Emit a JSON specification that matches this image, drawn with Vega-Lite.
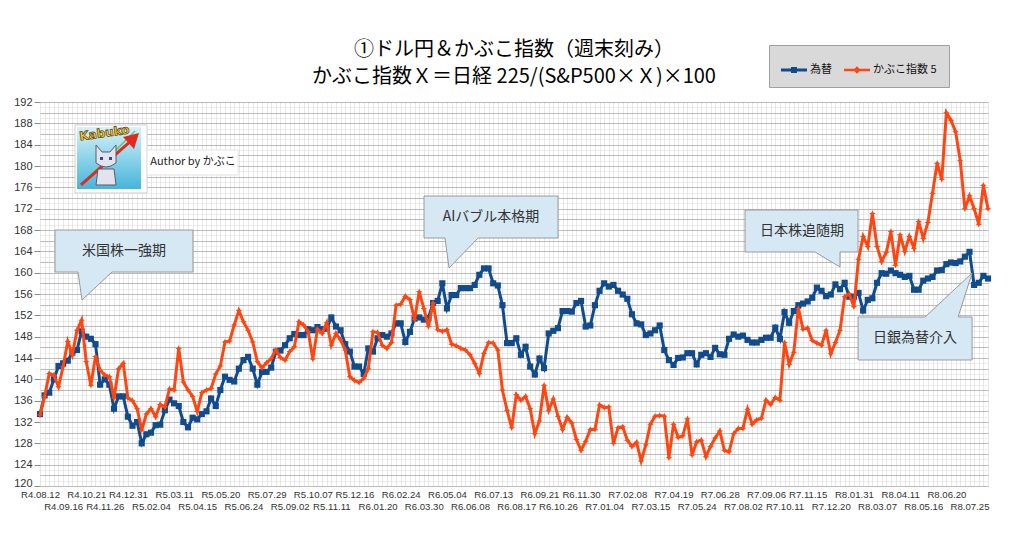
{
  "$schema": "https://vega.github.io/schema/vega-lite/v6.json",
  "width": 948,
  "height": 384,
  "autosize": "none",
  "padding": {"left": 40, "top": 102, "right": 36, "bottom": 50},
  "background": "white",
  "title": {
    "text": ["①ドル円＆かぶこ指数（週末刻み）", "かぶこ指数Ｘ＝日経 225/(S&P500×Ｘ)×100"],
    "font": "Noto Sans CJK JP",
    "fontSize": 20,
    "fontWeight": "normal",
    "color": "#000000",
    "lineHeight": 27,
    "anchor": "middle",
    "frame": "group",
    "offset": -42
  },
  "params": [
    {"name": "tk", "value": [0,5,10,14,19,24,29,34,39,44,49,54,59,63,68,73,78,83,88,93,98,103,108,112,117,122,127,132,137,142,147,152,157,161,166,171,176,181,186,191,196,201]},
    {"name": "lb", "value": ["R4.08.12","R4.09.16","R4.10.21","R4.11.26","R4.12.31","R5.02.04","R5.03.11","R5.04.15","R5.05.20","R5.06.24","R5.07.29","R5.09.02","R5.10.07","R5.11.11","R5.12.16","R6.01.20","R6.02.24","R6.03.30","R6.05.04","R6.06.08","R6.07.13","R6.08.17","R6.09.21","R6.10.26","R6.11.30","R7.01.04","R7.02.08","R7.03.15","R7.04.19","R7.05.24","R7.06.28","R7.08.02","R7.09.06","R7.10.11","R7.11.15","R7.12.20","R8.01.31","R8.03.07","R8.04.11","R8.05.16","R8.06.20","R8.07.25"]}
  ],
  "datasets": {
    "wk": [
      {"w":0,"fx":133.5,"kabuko":133.3},{"w":1,"fx":137,"kabuko":136.8},{"w":2,"fx":137.5,"kabuko":141.1},{"w":3,"fx":140,"kabuko":140.8},{"w":4,"fx":142.5,"kabuko":138.6},
      {"w":5,"fx":143,"kabuko":142.4},{"w":6,"fx":143.5,"kabuko":147.1},{"w":7,"fx":145,"kabuko":144.6},{"w":8,"fx":145.5,"kabuko":149.2},{"w":9,"fx":149,"kabuko":151.1},
      {"w":10,"fx":148,"kabuko":143.3},{"w":11,"fx":147.6,"kabuko":138.9},{"w":12,"fx":146.6,"kabuko":144.3},{"w":13,"fx":139,"kabuko":141.7},{"w":14,"fx":140,"kabuko":140.8},
      {"w":15,"fx":139,"kabuko":140.5},{"w":16,"fx":134.5,"kabuko":136.5},{"w":17,"fx":136.8,"kabuko":142},{"w":18,"fx":136.8,"kabuko":143},{"w":19,"fx":133,"kabuko":136.5},
      {"w":20,"fx":131.3,"kabuko":136},{"w":21,"fx":132,"kabuko":134.5},{"w":22,"fx":128,"kabuko":130.5},{"w":23,"fx":129.7,"kabuko":133.5},{"w":24,"fx":130,"kabuko":134.5},
      {"w":25,"fx":131.4,"kabuko":133},{"w":26,"fx":131.5,"kabuko":135.3},{"w":27,"fx":134.2,"kabuko":134.8},{"w":28,"fx":136.2,"kabuko":138.2},{"w":29,"fx":135.5,"kabuko":138},
      {"w":30,"fx":135,"kabuko":145.8},{"w":31,"fx":132,"kabuko":139.5},{"w":32,"fx":131,"kabuko":138},{"w":33,"fx":132.8,"kabuko":136.8},{"w":34,"fx":132.5,"kabuko":134},
      {"w":35,"fx":133.5,"kabuko":137.5},{"w":36,"fx":134,"kabuko":138},{"w":37,"fx":136.4,"kabuko":138.3},{"w":38,"fx":135,"kabuko":141},{"w":39,"fx":138,"kabuko":142.5},
      {"w":40,"fx":140.5,"kabuko":147},{"w":41,"fx":139.9,"kabuko":147.2},{"w":42,"fx":139.6,"kabuko":150.2},{"w":43,"fx":142,"kabuko":152.9},{"w":44,"fx":143.6,"kabuko":150.8},
      {"w":45,"fx":144.2,"kabuko":149.2},{"w":46,"fx":142,"kabuko":147},{"w":47,"fx":139,"kabuko":143.3},{"w":48,"fx":141.4,"kabuko":142.2},{"w":49,"fx":141.4,"kabuko":143.1},
      {"w":50,"fx":142.2,"kabuko":143.9},{"w":51,"fx":145.2,"kabuko":145.5},{"w":52,"fx":145.4,"kabuko":144.1},{"w":53,"fx":146.4,"kabuko":143.6},{"w":54,"fx":147.7,"kabuko":145.2},
      {"w":55,"fx":148.5,"kabuko":146.1},{"w":56,"fx":148.3,"kabuko":150.8},{"w":57,"fx":148.3,"kabuko":150.2},{"w":58,"fx":149.4,"kabuko":148.9},{"w":59,"fx":149.2,"kabuko":143.8},
      {"w":60,"fx":149.8,"kabuko":149.4},{"w":61,"fx":149.4,"kabuko":148.6},{"w":62,"fx":149.5,"kabuko":150.6},{"w":63,"fx":151.6,"kabuko":146.4},{"w":64,"fx":149.9,"kabuko":148.6},
      {"w":65,"fx":149.2,"kabuko":147.4},{"w":66,"fx":146.6,"kabuko":145.5},{"w":67,"fx":145.2,"kabuko":140.5},{"w":68,"fx":142.4,"kabuko":139.8},{"w":69,"fx":142.4,"kabuko":139.4},
      {"w":70,"fx":141,"kabuko":140.2},{"w":71,"fx":145.8,"kabuko":142},{"w":72,"fx":145.2,"kabuko":148.9},{"w":73,"fx":147.7,"kabuko":148.8},{"w":74,"fx":148.3,"kabuko":146.4},
      {"w":75,"fx":148,"kabuko":145.8},{"w":76,"fx":148.6,"kabuko":146.9},{"w":77,"fx":150.5,"kabuko":153.9},{"w":78,"fx":150.5,"kabuko":154.1},{"w":79,"fx":147,"kabuko":155.6},
      {"w":80,"fx":148.9,"kabuko":154.9},{"w":81,"fx":151.4,"kabuko":151.2},{"w":82,"fx":151.6,"kabuko":156.4},{"w":83,"fx":151.2,"kabuko":153.3},{"w":84,"fx":151.5,"kabuko":149.9},
      {"w":85,"fx":154.3,"kabuko":154.3},{"w":86,"fx":154.7,"kabuko":149.3},{"w":87,"fx":158,"kabuko":149},{"w":88,"fx":153.3,"kabuko":149.3},{"w":89,"fx":155.8,"kabuko":146.6},
      {"w":90,"fx":155.8,"kabuko":146.3},{"w":91,"fx":157.1,"kabuko":145.8},{"w":92,"fx":157.1,"kabuko":145.5},{"w":93,"fx":157.1,"kabuko":144.6},{"w":94,"fx":157.7,"kabuko":143},
      {"w":95,"fx":159.6,"kabuko":141.1},{"w":96,"fx":160.8,"kabuko":144.9},{"w":97,"fx":160.8,"kabuko":146.9},{"w":98,"fx":158,"kabuko":146.8},{"w":99,"fx":157.6,"kabuko":145.5},
      {"w":100,"fx":153.9,"kabuko":138},{"w":101,"fx":146.8,"kabuko":134.2},{"w":102,"fx":146.8,"kabuko":130.9},{"w":103,"fx":147.7,"kabuko":137.1},{"w":104,"fx":144.6,"kabuko":136.1},
      {"w":105,"fx":146.1,"kabuko":136.8},{"w":106,"fx":142.4,"kabuko":134.5},{"w":107,"fx":140.9,"kabuko":129.8},{"w":108,"fx":143.9,"kabuko":132.2},{"w":109,"fx":142.1,"kabuko":138.9},
      {"w":110,"fx":148.6,"kabuko":134.2},{"w":111,"fx":149.1,"kabuko":136.3},{"w":112,"fx":149.6,"kabuko":133.1},{"w":113,"fx":152.8,"kabuko":130.6},{"w":114,"fx":152.8,"kabuko":132.9},
      {"w":115,"fx":152.7,"kabuko":131.8},{"w":116,"fx":154.3,"kabuko":128.7},{"w":117,"fx":154.7,"kabuko":126.7},{"w":118,"fx":149.9,"kabuko":128.4},{"w":119,"fx":150.1,"kabuko":130.6},
      {"w":120,"fx":153.9,"kabuko":130.6},{"w":121,"fx":156.6,"kabuko":135.2},{"w":122,"fx":158,"kabuko":134.7},{"w":123,"fx":157.4,"kabuko":134.8},{"w":124,"fx":157.7,"kabuko":128},
      {"w":125,"fx":156.6,"kabuko":130.9},{"w":126,"fx":155.9,"kabuko":131.1},{"w":127,"fx":155.1,"kabuko":128.6},{"w":128,"fx":152.2,"kabuko":127.4},{"w":129,"fx":150.5,"kabuko":128.2},
      {"w":130,"fx":150.3,"kabuko":124.7},{"w":131,"fx":148.3,"kabuko":127.7},{"w":132,"fx":148.6,"kabuko":131.6},{"w":133,"fx":149.2,"kabuko":133.1},{"w":134,"fx":150.1,"kabuko":133.2},
      {"w":135,"fx":145.5,"kabuko":133.1},{"w":136,"fx":143.6,"kabuko":125.3},{"w":137,"fx":142.7,"kabuko":131.6},{"w":138,"fx":144,"kabuko":129.1},{"w":139,"fx":144.1,"kabuko":129.4},
      {"w":140,"fx":144.9,"kabuko":132.6},{"w":141,"fx":144.9,"kabuko":125.8},{"w":142,"fx":142.8,"kabuko":128.3},{"w":143,"fx":144.6,"kabuko":128.6},{"w":144,"fx":144.9,"kabuko":125.5},
      {"w":145,"fx":144.2,"kabuko":127.4},{"w":146,"fx":145.9,"kabuko":129},{"w":147,"fx":144.7,"kabuko":130.3},{"w":148,"fx":144.6,"kabuko":126.7},{"w":149,"fx":147.6,"kabuko":126.4},
      {"w":150,"fx":148.4,"kabuko":129.8},{"w":151,"fx":148,"kabuko":130.8},{"w":152,"fx":148.2,"kabuko":130.8},{"w":153,"fx":147.4,"kabuko":134.4},{"w":154,"fx":146.9,"kabuko":131.6},
      {"w":155,"fx":146.9,"kabuko":132.4},{"w":156,"fx":147.4,"kabuko":132.7},{"w":157,"fx":147.8,"kabuko":136.1},{"w":158,"fx":147.8,"kabuko":135.3},{"w":159,"fx":149.7,"kabuko":136.6},
      {"w":160,"fx":147.6,"kabuko":136.1},{"w":161,"fx":152.6,"kabuko":146.9},{"w":162,"fx":150.6,"kabuko":142.8},{"w":163,"fx":152.8,"kabuko":145.1},{"w":164,"fx":153.9,"kabuko":153.3},
      {"w":165,"fx":154.2,"kabuko":149.4},{"w":166,"fx":154.6,"kabuko":149.6},{"w":167,"fx":155.3,"kabuko":147.3},{"w":168,"fx":157.2,"kabuko":146.8},{"w":169,"fx":156.6,"kabuko":146.4},
      {"w":170,"fx":155.6,"kabuko":149.2},{"w":171,"fx":155.9,"kabuko":144.8},{"w":172,"fx":157.8,"kabuko":146.9},{"w":173,"fx":156.9,"kabuko":149.2},{"w":174,"fx":158.1,"kabuko":155.5},
      {"w":175,"fx":155.5,"kabuko":156},{"w":176,"fx":155.5,"kabuko":153.6},{"w":177,"fx":156.2,"kabuko":162.5},{"w":178,"fx":152.9,"kabuko":166.8},{"w":179,"fx":154.9,"kabuko":164.9},
      {"w":180,"fx":155.2,"kabuko":171.1},{"w":181,"fx":158.1,"kabuko":164.9},{"w":182,"fx":159.9,"kabuko":162.1},{"w":183,"fx":159.8,"kabuko":163.8},{"w":184,"fx":160.4,"kabuko":167.7},
      {"w":185,"fx":159.9,"kabuko":161.4},{"w":186,"fx":159.6,"kabuko":167.1},{"w":187,"fx":159.2,"kabuko":164},{"w":188,"fx":159.4,"kabuko":166.8},{"w":189,"fx":156.8,"kabuko":164.6},
      {"w":190,"fx":156.8,"kabuko":169.6},{"w":191,"fx":158.5,"kabuko":166.4},{"w":192,"fx":158.9,"kabuko":169.4},{"w":193,"fx":159.2,"kabuko":174.9},{"w":194,"fx":160.4,"kabuko":180.5},
      {"w":195,"fx":160.5,"kabuko":177.5},{"w":196,"fx":161.6,"kabuko":190},{"w":197,"fx":161.9,"kabuko":188.6},{"w":198,"fx":161.8,"kabuko":186.4},{"w":199,"fx":162.1,"kabuko":181},
      {"w":200,"fx":163,"kabuko":172},{"w":201,"fx":163.9,"kabuko":174.4},{"w":202,"fx":157.7,"kabuko":172},{"w":203,"fx":158.1,"kabuko":169.1},{"w":204,"fx":159.4,"kabuko":176.4},
      {"w":205,"fx":158.9,"kabuko":172}
    ]
  },
  "encoding": {
    "x": {
      "field": "w", "type": "quantitative",
      "scale": {"domain": [0, 205], "nice": false, "zero": false},
      "axis": {
        "title": null, "tickCount": 205, "domain": false, "ticks": false,
        "labelExpr": "indexof(tk, datum.value) < 0 ? '' : lb[indexof(tk, datum.value)]",
        "labelOverlap": false, "labelFlush": false,
        "labelFont": "Liberation Sans", "labelFontSize": 9.6, "labelColor": "#333333",
        "labelPadding": {"condition": {"test": "indexof(tk, datum.value) % 2 === 1", "value": 15}, "value": 3},
        "grid": true, "gridColor": "#d0d0d0", "gridDash": [1, 1], "gridWidth": 1
      }
    },
    "y": {
      "field": "v", "type": "quantitative",
      "scale": {"domain": [120, 192], "nice": false, "zero": false},
      "axis": {
        "title": null, "tickCount": 144, "domain": false, "format": "d",
        "labelExpr": "datum.value % 4 === 0 ? datum.label : ''",
        "labelOverlap": false, "labelFlush": false,
        "labelFont": "Liberation Sans", "labelFontSize": 11, "labelColor": "#333333", "labelPadding": 2,
        "labelOffset": {"condition": {"test": "datum.value === 120", "value": -3}, "value": 0},
        "tickSize": 6,
        "tickColor": {"condition": {"test": "datum.value % 4 === 0", "value": "#8c8c8c"}, "value": "transparent"},
        "grid": true,
        "gridColor": {"condition": {"test": "datum.value % 2 === 0", "value": "#a4a4a4"}, "value": "#dadada"},
        "gridDash": {"condition": {"test": "datum.value % 2 === 0", "value": [1, 0]}, "value": [1, 1]}
      }
    }
  },
  "layer": [
    {
      "data": {"name": "wk"},
      "transform": [{"fold": ["fx"], "as": ["s", "v"]}],
      "layer": [
        {"mark": {"type": "line", "color": "#114b8b", "strokeWidth": 3}},
        {"mark": {"type": "point", "shape": "square", "filled": true, "size": 38, "color": "#114b8b", "opacity": 1}}
      ]
    },
    {
      "data": {"name": "wk"},
      "transform": [{"fold": ["kabuko"], "as": ["s", "v"]}],
      "layer": [
        {"mark": {"type": "line", "color": "#ff4510", "strokeWidth": 3}},
        {"mark": {"type": "point", "shape": "M0,-1L0.3,-0.3L1,0L0.3,0.3L0,1L-0.3,0.3L-1,0L-0.3,-0.3Z", "filled": true, "size": 44, "color": "#ff4510", "opacity": 1}}
      ]
    },
    {
      "data": {"values": [{"s": "為替", "w": 0, "v": 150}, {"s": "かぶこ指数 5", "w": 0, "v": 150}]},
      "transform": [{"filter": "false"}],
      "mark": {"type": "point", "filled": true, "opacity": 1},
      "encoding": {
        "color": {
          "field": "s", "type": "nominal",
          "scale": {"domain": ["為替", "かぶこ指数 5"], "range": ["#114b8b", "#ff4510"]},
          "legend": {
            "title": null, "orient": "none", "legendX": 729, "legendY": -57, "direction": "horizontal",
            "padding": 12, "fillColor": "#d9d9d9", "strokeColor": "#a0a0a0",
            "symbolSize": 676, "symbolStrokeWidth": 0, "symbolOpacity": 1,
            "labelFont": "Noto Sans CJK JP", "labelFontSize": 11, "labelColor": "#111111",
            "labelOffset": 3, "columnPadding": 12
          }
        },
        "shape": {
          "field": "s", "type": "nominal",
          "scale": {"domain": ["為替", "かぶこ指数 5"], "range": [
            "M-1,-0.12L1,-0.12L1,0.12L-1,0.12ZM-0.23,-0.23L0.23,-0.23L0.23,0.23L-0.23,0.23Z",
            "M-1,-0.1L1,-0.1L1,0.1L-1,0.1ZM0,-0.28L0.28,0L0,0.28L-0.28,0Z"
          ]},
          "legend": {
            "title": null, "orient": "none", "legendX": 729, "legendY": -57, "direction": "horizontal",
            "padding": 12, "fillColor": "#d9d9d9", "strokeColor": "#a0a0a0",
            "symbolSize": 676, "symbolStrokeWidth": 0, "symbolOpacity": 1,
            "labelFont": "Noto Sans CJK JP", "labelFontSize": 11, "labelColor": "#111111",
            "labelOffset": 3, "columnPadding": 12
          }
        }
      }
    },
    {
      "data": {"values": [{"w": 9.08, "v": 154.87, "t": "米国株一強期"}]},
      "layer": [
        {"mark": {"type": "point", "shape": "M-27,-70L111,-70L111,-28L30,-28L0,0L-4,-28L-27,-28Z", "size": 4, "filled": true, "fill": "#d5e8f4", "stroke": "#9a9a9a", "strokeWidth": 1, "opacity": 1}},
        {"mark": {"type": "text", "dx": 42, "dy": -49, "font": "Noto Sans CJK JP", "fontSize": 14, "color": "#333333"}, "encoding": {"text": {"field": "t"}}}
      ]
    },
    {
      "data": {"values": [{"w": 88.45, "v": 160.87, "t": "AIバブル本格期"}]},
      "layer": [
        {"mark": {"type": "point", "shape": "M-25,-72L109,-72L109,-30L29,-30L0,0L-4,-30L-25,-30Z", "size": 4, "filled": true, "fill": "#d5e8f4", "stroke": "#9a9a9a", "strokeWidth": 1, "opacity": 1}},
        {"mark": {"type": "text", "dx": 42, "dy": -51, "font": "Noto Sans CJK JP", "fontSize": 14, "color": "#333333"}, "encoding": {"text": {"field": "t"}}}
      ]
    },
    {
      "data": {"values": [{"w": 173.0, "v": 161.06, "t": "日本株追随期"}]},
      "layer": [
        {"mark": {"type": "point", "shape": "M-95,-57L18,-57L18,-15L0,-15L0,0L-25,-15L-95,-15Z", "size": 4, "filled": true, "fill": "#d5e8f4", "stroke": "#9a9a9a", "strokeWidth": 1, "opacity": 1}},
        {"mark": {"type": "text", "dx": -38, "dy": -36, "font": "Noto Sans CJK JP", "fontSize": 14, "color": "#333333"}, "encoding": {"text": {"field": "t"}}}
      ]
    },
    {
      "data": {"values": [{"w": 201.56, "v": 159.94, "t": "日銀為替介入"}]},
      "layer": [
        {"mark": {"type": "point", "shape": "M-114,44L-47,44L0,0L-14,44L0,44L0,87L-114,87Z", "size": 4, "filled": true, "fill": "#d5e8f4", "stroke": "#9a9a9a", "strokeWidth": 1, "opacity": 1}},
        {"mark": {"type": "text", "dx": -57, "dy": 65.5, "font": "Noto Sans CJK JP", "fontSize": 14, "color": "#333333"}, "encoding": {"text": {"field": "t"}}}
      ]
    },
    {
      "data": {"values": [{"w": 7.57, "v": 187.69}]},
      "layer": [
        {"mark": {"type": "point", "shape": "M0,0L72,0L72,68L0,68Z", "size": 4, "filled": true, "fill": "#ffffff", "stroke": "#d0d0d0", "strokeWidth": 1, "opacity": 1}},
        {"mark": {"type": "point", "shape": "M72,25L163,25L163,50L72,50Z", "size": 4, "filled": true, "fill": "#ffffff", "stroke": "#e4e4e4", "strokeWidth": 1, "opacity": 1}},
        {"mark": {"type": "point", "shape": "M2,2L66,2L66,64L2,64Z", "size": 4, "filled": true, "opacity": 1,
          "fill": {"gradient": "linear", "x1": 0, "y1": 0, "x2": 0, "y2": 1, "stops": [{"offset": 0, "color": "#d6f2f9"}, {"offset": 1, "color": "#45b5da"}]}}},
        {"mark": {"type": "point", "shape": "M12,54L60,6", "size": 4, "filled": false, "stroke": "#6cc46a", "strokeWidth": 1.5, "opacity": 1}},
        {"mark": {"type": "point", "shape": "M6,60L56,16", "size": 4, "filled": false, "stroke": "#e02a20", "strokeWidth": 3, "opacity": 1}},
        {"mark": {"type": "point", "shape": "M48,12L64,8L59,24Z", "size": 4, "filled": true, "fill": "#e02a20", "opacity": 1}},
        {"mark": {"type": "point", "shape": "M21,38L21,20L27,27L35,27L41,20L41,38Q31,46,21,38ZM23,44L39,44L41,60L21,60Z", "size": 4, "filled": true, "fill": "#e3e3ee", "stroke": "#5a5a6a", "strokeWidth": 1, "opacity": 1}},
        {"mark": {"type": "point", "shape": "M25,32L28,32L28,35L25,35ZM34,32L37,32L37,35L34,35Z", "size": 4, "filled": true, "fill": "#2d4f8f", "opacity": 1}},
        {"mark": {"type": "text", "text": "Kabuko", "dx": 28, "dy": 12, "angle": -8, "font": "DejaVu Sans", "fontSize": 12, "fontWeight": "bold", "fill": "#ffd83a", "stroke": "#6b4a12", "strokeWidth": 0.8}},
        {"mark": {"type": "text", "text": "Author by かぶこ", "dx": 118, "dy": 37.5, "font": "Noto Sans CJK JP", "fontSize": 11, "color": "#222222"}}
      ]
    }
  ],
  "config": {
    "view": {"stroke": null},
    "text": {"align": "center", "baseline": "middle"}
  }
}
